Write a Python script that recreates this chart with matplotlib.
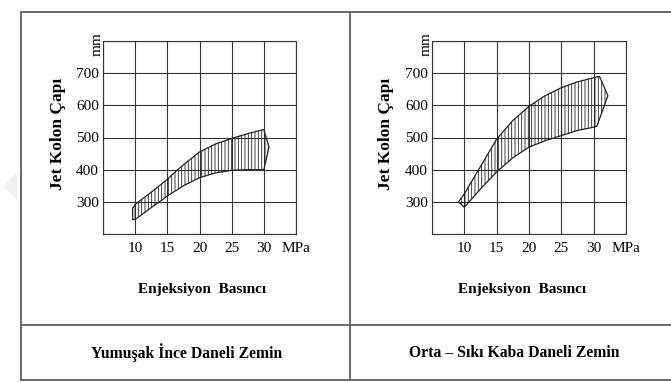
import matplotlib.pyplot as plt
from matplotlib.lines import Line2D
from matplotlib.patches import Polygon

# band outlines (x in MPa, y in mm)
soft_upper_x = [9.6, 10, 12.5, 15, 16.5, 17.5, 20, 22.5, 25, 27.5, 30, 30.8]
soft_upper_y = [280, 292, 330, 370, 398, 415, 455, 480, 497, 512, 525, 470]
soft_lower_x = [30, 27.5, 25, 22.5, 20, 17.5, 15, 12.5, 10, 9.6]
soft_lower_y = [400, 400, 398, 390, 375, 350, 318, 282, 245, 245]

dense_upper_x = [9.1, 10, 12.5, 15, 17.5, 20, 22.5, 25, 27.5, 30, 30.9, 32.2]
dense_upper_y = [300, 325, 410, 495, 553, 597, 630, 655, 673, 686, 690, 630]
dense_lower_x = [30.5, 30, 27.5, 25, 22.5, 20, 17.5, 15, 12.5, 10]
dense_lower_y = [535, 532, 522, 506, 490, 470, 437, 393, 340, 283]

x_ticks = [5, 10, 15, 20, 25, 30, 35]
x_labels = ['', '10', '15', '20', '25', '30', 'MPa']
y_ticks = [200, 300, 400, 500, 600, 700, 800]
y_labels = ['', '300', '400', '500', '600', '700', '']

titles = ['Yumuşak İnce Daneli Zemin', 'Orta – Sıkı Kaba Daneli Zemin']

plt.rcParams['font.family'] = 'Liberation Serif'
plt.rcParams['hatch.linewidth'] = 0.6
plt.rcParams['hatch.color'] = '#222222'

W, H = 671, 382
fig = plt.figure(figsize=(W / 100, H / 100), dpi=100)


def px_axes(x0, y0, x1, y1):
    return fig.add_axes([x0 / W, 1 - y1 / H, (x1 - x0) / W, (y1 - y0) / H])


def band(ax, ux, uy, lx, ly):
    pts = list(zip(ux + lx, uy + ly))
    ax.add_patch(Polygon(pts, closed=True, facecolor='none', edgecolor='#222222',
                         hatch='|||||', linewidth=0.9, zorder=3))


panels = [
    (px_axes(103, 41, 296, 234), soft_upper_x, soft_upper_y, soft_lower_x, soft_lower_y, 0.513),
    (px_axes(432, 41, 626, 234), dense_upper_x, dense_upper_y, dense_lower_x, dense_lower_y, 0.464),
]

for ax, ux, uy, lx, ly, xlab in panels:
    ax.set_xlim(5, 35)
    ax.set_ylim(200, 800)
    ax.set_xticks(x_ticks)
    ax.set_xticklabels(x_labels, fontsize=11)
    ax.set_yticks(y_ticks)
    ax.set_yticklabels(y_labels, fontsize=11)
    ax.tick_params(length=0, pad=6)
    ax.tick_params(axis='y', pad=3)
    ax.grid(True, color='#333333', linewidth=0.8)
    ax.set_axisbelow(True)
    for s in ax.spines.values():
        s.set_color('#333333')
        s.set_linewidth(0.8)
    band(ax, ux, uy, lx, ly)
    ax.text(-0.03, 0.985, 'mm', rotation=90, transform=ax.transAxes,
            ha='center', va='center', fontsize=11)
    ax.text(-0.235, 0.52, 'Jet Kolon Çapı', rotation=90, transform=ax.transAxes,
            ha='center', va='center', fontsize=12.5, fontweight='bold')
    ax.text(xlab, -0.29, 'Enjeksiyon  Basıncı', transform=ax.transAxes,
            ha='center', va='center', fontsize=11, fontweight='bold')

# table frame
frame = '#6a6a6a'
for (x0, y0, x1, y1) in [(21, 12, 671, 12), (21, 12, 21, 380), (350, 12, 350, 380),
                         (21, 325, 671, 325), (21, 380, 671, 380)]:
    fig.add_artist(Line2D([x0 / W, x1 / W], [1 - y0 / H, 1 - y1 / H],
                          transform=fig.transFigure, color=frame, linewidth=1.4))

fig.text(187 / W, 1 - 353 / H, titles[0], ha='center', va='center',
         fontsize=11.3, fontweight='bold')
fig.text(514 / W, 1 - 353 / H, titles[1], ha='center', va='center',
         fontsize=11.3, fontweight='bold')

# faint grey mark at the left edge
fig.add_artist(Polygon([(3 / W, 1 - 186 / H), (17 / W, 1 - 172 / H), (17 / W, 1 - 200 / H)],
                       closed=True, transform=fig.transFigure, facecolor='#f1f1f1',
                       edgecolor='none'))

fig.savefig('out.png', dpi=100)
